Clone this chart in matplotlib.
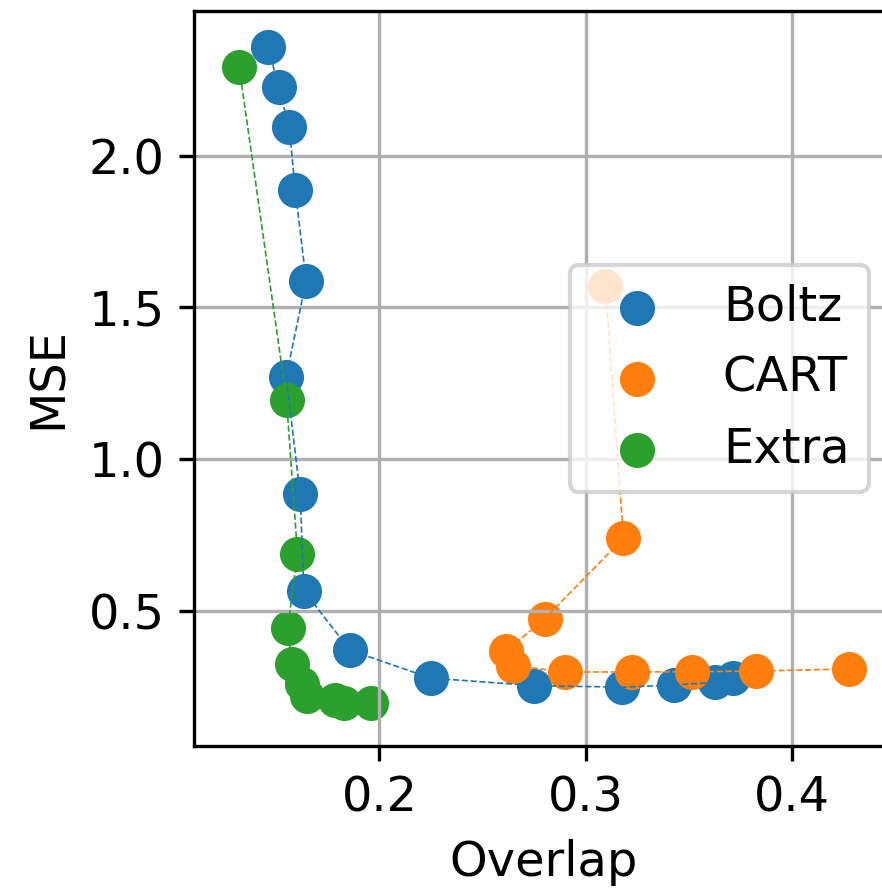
import matplotlib
matplotlib.use('Agg')
from matplotlib import pyplot as plt

# values
boltz_overlap = [0.1461, 0.1510, 0.1562, 0.1591, 0.1644, 0.1547, 0.1615, 0.1633,
                 0.1856, 0.2248, 0.2749, 0.3178, 0.3429, 0.3628, 0.3717]
boltz_mse = [2.358, 2.225, 2.095, 1.887, 1.588, 1.271, 0.885, 0.566,
             0.370, 0.278, 0.253, 0.248, 0.255, 0.264, 0.277]

cart_overlap = [0.3096, 0.3184, 0.2802, 0.2615, 0.2646, 0.2901, 0.3223, 0.3515, 0.3825, 0.4278]
cart_mse = [1.570, 0.739, 0.474, 0.367, 0.319, 0.298, 0.298, 0.299, 0.301, 0.308]

extra_overlap = [0.1319, 0.1549, 0.1602, 0.1555, 0.1575, 0.1626, 0.1646, 0.1782, 0.1830, 0.1960]
extra_mse = [2.293, 1.194, 0.688, 0.443, 0.324, 0.258, 0.219, 0.206, 0.195, 0.195]

series = [('Boltz', boltz_overlap, boltz_mse, 'C0'),
          ('CART', cart_overlap, cart_mse, 'C1'),
          ('Extra', extra_overlap, extra_mse, 'C2')]

plt.rcParams['font.size'] = 11.5

fig = plt.figure(figsize=(882 / 300, 889 / 300), dpi=300)
# right spine sits just outside the picture, as in the reference
ax = fig.add_axes([0.22, 0.1612, 0.792, 0.8264])

for name, x, y, c in series:
    ax.plot(x, y, '--', color=c, linewidth=0.4)
    ax.scatter(x, y, s=55, color=c, label=name)

ax.set_xlim(0.110, 0.449)
ax.set_ylim(0.055, 2.477)
ax.set_xticks([0.2, 0.3, 0.4])
ax.set_yticks([0.5, 1.0, 1.5, 2.0])
ax.set_xlabel('Overlap')
ax.set_ylabel('MSE')
ax.grid(True)
ax.legend(loc='center right')

fig.savefig('out.png', dpi=300)
